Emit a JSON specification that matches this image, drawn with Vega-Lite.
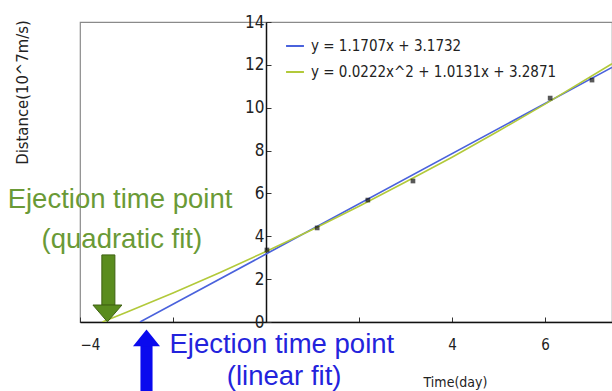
{
  "$schema": "https://vega.github.io/schema/vega-lite/v6.json",
  "autosize": "none",
  "width": 532,
  "height": 300,
  "padding": {"left": 80, "top": 22, "right": 0, "bottom": 69},
  "background": "white",
  "config": {
    "view": {"stroke": "#8a8a8a", "strokeWidth": 1.2},
    "font": "Liberation Sans"
  },
  "datasets": {
    "fits": [
      {"t": -2.71, "d": 0.0, "fit": "y = 1.1707x + 3.1732"},
      {"t": 0, "d": 3.17, "fit": "y = 1.1707x + 3.1732"},
      {"t": 7.44, "d": 11.88, "fit": "y = 1.1707x + 3.1732"},
      {"t": -3.52, "d": 0.0, "fit": "y = 0.0222x^2 + 1.0131x + 3.2871"},
      {"t": -3, "d": 0.45, "fit": "y = 0.0222x^2 + 1.0131x + 3.2871"},
      {"t": -2, "d": 1.35, "fit": "y = 0.0222x^2 + 1.0131x + 3.2871"},
      {"t": -1, "d": 2.30, "fit": "y = 0.0222x^2 + 1.0131x + 3.2871"},
      {"t": 0, "d": 3.29, "fit": "y = 0.0222x^2 + 1.0131x + 3.2871"},
      {"t": 1, "d": 4.32, "fit": "y = 0.0222x^2 + 1.0131x + 3.2871"},
      {"t": 2, "d": 5.40, "fit": "y = 0.0222x^2 + 1.0131x + 3.2871"},
      {"t": 3, "d": 6.53, "fit": "y = 0.0222x^2 + 1.0131x + 3.2871"},
      {"t": 4, "d": 7.69, "fit": "y = 0.0222x^2 + 1.0131x + 3.2871"},
      {"t": 5, "d": 8.91, "fit": "y = 0.0222x^2 + 1.0131x + 3.2871"},
      {"t": 6, "d": 10.17, "fit": "y = 0.0222x^2 + 1.0131x + 3.2871"},
      {"t": 7.44, "d": 12.05, "fit": "y = 0.0222x^2 + 1.0131x + 3.2871"}
    ],
    "obs": [
      {"t": 0.02, "d": 3.36},
      {"t": 1.10, "d": 4.39},
      {"t": 2.19, "d": 5.69},
      {"t": 3.16, "d": 6.58},
      {"t": 6.11, "d": 10.45},
      {"t": 7.01, "d": 11.29}
    ]
  },
  "layer": [
    {
      "data": {"name": "fits"},
      "mark": {"type": "line", "strokeWidth": 1.6, "clip": true},
      "encoding": {
        "x": {
          "field": "t", "type": "quantitative",
          "scale": {"domain": [-4, 7.44], "nice": false, "zero": false},
          "axis": {
            "values": [-4, -2, 0, 2, 4, 6],
            "labelExpr": "datum.value == -4 || datum.value >= 4 ? datum.label : ''",
            "grid": false,
            "domainColor": "#111", "domainWidth": 1.5,
            "tickColor": "#333", "tickSize": -5,
            "labelFont": "DejaVu Sans Condensed, Liberation Sans, sans-serif", "labelFontSize": 15, "labelColor": "#222",
            "labelPadding": 20,
            "title": "Time(day)",
            "titleFont": "DejaVu Sans Condensed, Liberation Sans, sans-serif", "titleFontSize": 14, "titleFontWeight": "normal", "titleColor": "#222",
            "titleX": 375, "titleY": 64, "titleBaseline": "alphabetic", "titleAlign": "center"
          }
        },
        "y": {
          "field": "d", "type": "quantitative",
          "scale": {"domain": [0, 14], "nice": false},
          "axis": {
            "values": [0, 2, 4, 6, 8, 10, 12, 14],
            "offset": -186,
            "grid": false,
            "domainColor": "#111", "domainWidth": 1.5,
            "tickColor": "#333", "tickSize": -5,
            "labelFont": "DejaVu Sans Condensed, Liberation Sans, sans-serif", "labelFontSize": 17, "labelColor": "#222",
            "labelPadding": 7,
            "title": "Distance(10^7m/s)",
            "titleFont": "DejaVu Sans Condensed, Liberation Sans, sans-serif", "titleFontSize": 16.5, "titleFontWeight": "normal", "titleColor": "#222",
            "titleX": -244, "titleY": 70, "titleAlign": "center", "titleBaseline": "middle", "titleAngle": -90
          }
        },
        "color": {
          "field": "fit", "type": "nominal",
          "scale": {"domain": ["y = 1.1707x + 3.1732", "y = 0.0222x^2 + 1.0131x + 3.2871"], "range": ["#4a62dc", "#b2c93a"]},
          "legend": {
            "title": null, "orient": "none", "legendX": 205, "legendY": 14,
            "symbolType": "stroke", "symbolStrokeWidth": 2, "symbolSize": 320,
            "labelFont": "DejaVu Sans Condensed, Liberation Sans, sans-serif", "labelFontSize": 15, "labelColor": "#222",
            "labelLimit": 0,
            "rowPadding": 8, "labelOffset": 6
          }
        }
      }
    },
    {
      "data": {"name": "obs"},
      "mark": {"type": "point", "shape": "square", "filled": true, "color": "#111", "size": 22},
      "encoding": {
        "x": {"field": "t", "type": "quantitative"},
        "y": {"field": "d", "type": "quantitative"}
      }
    },
    {
      "data": {"values": [{"a": -3.53, "b": -3.25, "lo": 0.78, "hi": 3.13}]},
      "mark": {"type": "rect", "color": "#5a8c1e", "stroke": "#3e6112", "strokeWidth": 1, "clip": false},
      "encoding": {
        "x": {"field": "a", "type": "quantitative"},
        "x2": {"field": "b"},
        "y": {"field": "lo", "type": "quantitative"},
        "y2": {"field": "hi"}
      }
    },
    {
      "data": {"values": [{"t": -3.41, "d": 0.40}]},
      "mark": {"type": "point", "shape": "M-1,-0.58L1,-0.58L0,0.58Z", "filled": true, "color": "#5a8c1e", "stroke": "#3e6112", "strokeWidth": 1, "size": 841, "opacity": 1, "clip": false},
      "encoding": {
        "x": {"field": "t", "type": "quantitative"},
        "y": {"field": "d", "type": "quantitative"}
      }
    },
    {
      "data": {"values": [{"a": -2.70, "b": -2.44, "lo": -3.3, "hi": -1.1}]},
      "mark": {"type": "rect", "color": "#0a0aee", "clip": false},
      "encoding": {
        "x": {"field": "a", "type": "quantitative"},
        "x2": {"field": "b"},
        "y": {"field": "lo", "type": "quantitative"},
        "y2": {"field": "hi"}
      }
    },
    {
      "data": {"values": [{"t": -2.57, "d": -0.74}]},
      "mark": {"type": "point", "shape": "M-1,0.62L1,0.62L0,-0.62Z", "filled": true, "color": "#0a0aee", "size": 729, "opacity": 1, "clip": false},
      "encoding": {
        "x": {"field": "t", "type": "quantitative"},
        "y": {"field": "d", "type": "quantitative"}
      }
    },
    {
      "data": {"values": [
        {"t": -3.14, "d": 5.69, "txt": "Ejection time point"},
        {"t": -3.10, "d": 3.85, "txt": "(quadratic fit)"}
      ]},
      "mark": {"type": "text", "font": "Liberation Sans", "fontSize": 27.5, "color": "#6a9a36", "align": "center", "baseline": "middle", "clip": false},
      "encoding": {
        "x": {"field": "t", "type": "quantitative"},
        "y": {"field": "d", "type": "quantitative"},
        "text": {"field": "txt"}
      }
    },
    {
      "data": {"values": [
        {"t": 0.34, "d": -1.07, "txt": "Ejection time point"},
        {"t": 0.39, "d": -2.55, "txt": "(linear fit)"}
      ]},
      "mark": {"type": "text", "font": "Liberation Sans", "fontSize": 27.5, "color": "#2323dc", "align": "center", "baseline": "middle", "clip": false},
      "encoding": {
        "x": {"field": "t", "type": "quantitative"},
        "y": {"field": "d", "type": "quantitative"},
        "text": {"field": "txt"}
      }
    }
  ]
}
